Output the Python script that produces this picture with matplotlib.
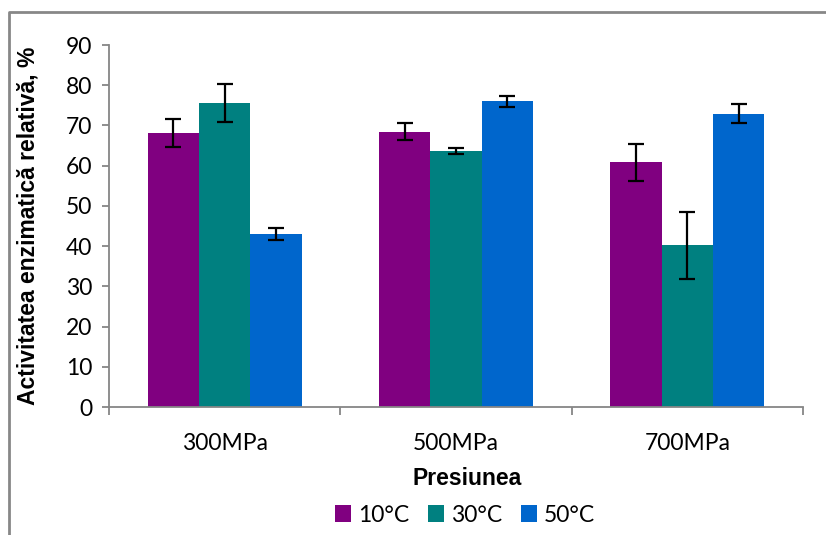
import matplotlib
matplotlib.use("Agg")
import matplotlib.pyplot as plt
import numpy as np
from matplotlib.lines import Line2D
from matplotlib.patches import Patch

categories = ["300MPa", "500MPa", "700MPa"]
series = ["10°C", "30°C", "50°C"]
values_10 = [68.2, 68.4, 60.8]
values_30 = [75.6, 63.7, 40.2]
values_50 = [43.1, 76.0, 72.9]
err_10 = [3.5, 2.1, 4.7]
err_30 = [4.7, 0.8, 8.3]
err_50 = [1.5, 1.4, 2.4]
colors = ["#800080", "#008080", "#0066CC"]
y_ticks = [0, 10, 20, 30, 40, 50, 60, 70, 80, 90]

tick_font = "Lato"
bold_font = "Liberation Sans"
grey = "#868686"

W, H = 826, 535
fig = plt.figure(figsize=(W / 100, H / 100), dpi=100)
ax = fig.add_axes([109 / W, 1 - 407 / H, (803 - 109) / W, (407 - 45) / H])

x = np.arange(len(categories))
width = 0.222
all_vals = [values_10, values_30, values_50]
all_errs = [err_10, err_30, err_50]
for i, (vals, errs) in enumerate(zip(all_vals, all_errs)):
    ax.bar(x + (i - 1) * width, vals, width, color=colors[i], label=series[i],
           yerr=errs, error_kw=dict(ecolor="black", elinewidth=1.6,
                                    capsize=6, capthick=1.6), zorder=2)

ax.set_xlim(-0.5, 2.5)
ax.set_ylim(0, 90)
ax.set_yticks(y_ticks)
ax.set_yticklabels([str(t) for t in y_ticks], fontname=tick_font, fontsize=16.5)
ax.set_xticks(x)
ax.set_xticklabels(categories, fontname=tick_font, fontsize=16.5)
ax.set_xticks([-0.5, 0.5, 1.5, 2.5], minor=True)
ax.tick_params(axis="x", which="major", length=0, pad=19)
ax.tick_params(axis="x", which="minor", length=6, width=1.3, color=grey, direction="out")
ax.tick_params(axis="y", length=5, width=1.3, color=grey, direction="out", pad=7)

for s in ["top", "right"]:
    ax.spines[s].set_visible(False)
for s in ["left", "bottom"]:
    ax.spines[s].set_color(grey)
    ax.spines[s].set_linewidth(1.3)

ax.set_ylabel("Activitatea enzimatică relativă, %", fontname=bold_font,
              fontweight="bold", fontsize=16.5)
ax.yaxis.set_label_coords((40 - 109) / (803 - 109), 0.5)

fig.text(467 / W, 1 - 485 / H, "Presiunea", fontname=bold_font,
         fontweight="bold", fontsize=16.5, ha="center", va="baseline")

handles = [Patch(facecolor=c, edgecolor="none") for c in colors]
fig.legend(handles, series, loc="center", bbox_to_anchor=(465 / W, 1 - 515 / H),
           ncol=3, frameon=False, prop={"family": tick_font, "size": 16.5},
           handlelength=0.72, handleheight=0.72, handletextpad=0.3,
           columnspacing=0.8)

# outer chart frame (top and left edges visible)
fig.add_artist(Line2D([9 / W, 9 / W, 1.0], [0.0, 1 - 12 / H, 1 - 12 / H],
                      transform=fig.transFigure, color="#878787", linewidth=2))

fig.savefig("out.png", dpi=100)
